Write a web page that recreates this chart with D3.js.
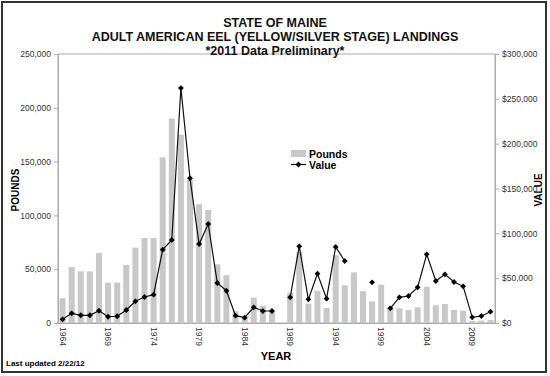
<!DOCTYPE html>
<html>
<head>
<meta charset="utf-8">
<script src="https://cdn.jsdelivr.net/npm/d3@7"></script>
<style>
  body { margin: 0; background: #fff; }
  svg { font-family: "Liberation Sans", Arial, sans-serif; }
</style>
</head>
<body>
<svg id="chart" width="550" height="376"></svg>
<script>
const years = d3.range(1964, 2012);
const pounds = [
  23000, 52000, 48000, 48000, 65000, 37500, 37500, 54000, 70000, 79000,
  79000, 154000, 190000, 175000, 133000, 110500, 105000, 54500, 44500, 11000,
  5000, 23500, 16000, 11500, null, 28000, 66000, 18000, 30000, 14000,
  63000, 35000, 47000, 29500, 20000, 35500, 14500, 13700, 12100, 14600,
  33700, 16500, 17700, 12100, 11400, 1800, 2200, 2900
];
const values = [
  4100, 10800, 8600, 8600, 13700, 7000, 7500, 14500, 24200, 29000,
  31600, 81800, 92600, 262000, 161400, 88100, 110400, 44600, 36000, 8200,
  5900, 17500, 13400, 13400, null, 28600, 85500, 26400, 55000, 27100,
  84800, 69100, null, null, 45400, null, 16400, 28600, 30100, 39800,
  76600, 46800, 54300, 45700, 40900, 6300, 7800, 12600
];
const poundTicks = [0, 50000, 100000, 150000, 200000, 250000];
const valueTicks = [0, 50000, 100000, 150000, 200000, 250000, 300000];
const yearLabels = [1964, 1969, 1974, 1979, 1984, 1989, 1994, 1999, 2004, 2009];

const rows = years.map((y, i) => ({ year: y, pounds: pounds[i], value: values[i] }));

const margin = { top: 54, right: 55, bottom: 53, left: 58 };
const width = 550 - margin.left - margin.right;
const height = 376 - margin.top - margin.bottom;

const svg = d3.select("#chart");

svg.append("rect")
  .attr("x", 2).attr("y", 2)
  .attr("width", 544).attr("height", 370)
  .attr("fill", "none")
  .attr("stroke", "#333")
  .attr("stroke-width", 2);

const g = svg.append("g")
  .attr("transform", `translate(${margin.left},${margin.top})`);

const x = d3.scaleBand()
  .domain(years)
  .range([0, width])
  .paddingInner(0.34)
  .paddingOuter(0.17);

const yL = d3.scaleLinear().domain([0, 250000]).range([height, 0]);
const yR = d3.scaleLinear().domain([0, 300000]).range([height, 0]);

// plot frame
g.append("rect")
  .attr("width", width).attr("height", height)
  .attr("fill", "none")
  .attr("stroke", "#aaa")
  .attr("stroke-width", 1);

g.selectAll(".bar")
  .data(rows.filter(d => d.pounds != null))
  .enter().append("rect")
  .attr("class", "bar")
  .attr("x", d => x(d.year))
  .attr("width", x.bandwidth())
  .attr("y", d => yL(d.pounds))
  .attr("height", d => height - yL(d.pounds))
  .attr("fill", "#c8c8c8");

const line = d3.line()
  .defined(d => d.value != null)
  .x(d => x(d.year) + x.bandwidth() / 2)
  .y(d => yR(d.value));

g.append("path")
  .datum(rows)
  .attr("fill", "none")
  .attr("stroke", "#111")
  .attr("stroke-width", 1.2)
  .attr("d", line);

// small diamond markers (square turned 45deg)
const marker = d3.symbol().type(d3.symbolSquare).size(17);
g.selectAll(".pt")
  .data(rows.filter(d => d.value != null))
  .enter().append("path")
  .attr("class", "pt")
  .attr("transform", d => `translate(${x(d.year) + x.bandwidth() / 2},${yR(d.value)}) rotate(45)`)
  .attr("d", marker)
  .attr("fill", "#000");

// axes
const leftAxis = g.append("g")
  .call(d3.axisLeft(yL).tickValues(poundTicks).tickSize(4).tickFormat(d3.format(",")));
const rightAxis = g.append("g")
  .attr("transform", `translate(${width},0)`)
  .call(d3.axisRight(yR).tickValues(valueTicks).tickSize(4).tickFormat(d => "$" + d3.format(",")(d)));
const bottomAxis = g.append("g")
  .attr("transform", `translate(0,${height})`)
  .call(d3.axisBottom(x).tickValues(yearLabels).tickSize(0).tickPadding(5));

[leftAxis, rightAxis, bottomAxis].forEach(a => {
  a.select(".domain").attr("stroke", "#aaa");
  a.selectAll(".tick line").attr("stroke", "#aaa");
  a.selectAll("text").attr("fill", "#333").style("font-size", "8.5px");
});

bottomAxis.selectAll("text")
  .attr("transform", "rotate(90)")
  .attr("text-anchor", "start")
  .attr("x", 4)
  .attr("y", 0)
  .attr("dy", "0.35em");

// titles
const titles = ["STATE OF MAINE", "ADULT AMERICAN EEL (YELLOW/SILVER STAGE) LANDINGS", "*2011 Data Preliminary*"];
svg.selectAll(".title")
  .data(titles)
  .enter().append("text")
  .attr("x", 275)
  .attr("y", (d, i) => 26.5 + i * 14)
  .attr("text-anchor", "middle")
  .style("font-size", "12.5px")
  .style("font-weight", "bold")
  .attr("fill", "#111")
  .text(d => d);

svg.append("text")
  .attr("transform", "translate(19,190) rotate(-90)")
  .attr("text-anchor", "middle")
  .style("font-size", "10px")
  .style("font-weight", "bold")
  .text("POUNDS");

svg.append("text")
  .attr("transform", "translate(542,190) rotate(-90)")
  .attr("text-anchor", "middle")
  .style("font-size", "10px")
  .style("font-weight", "bold")
  .text("VALUE");

svg.append("text")
  .attr("x", 276).attr("y", 360)
  .attr("text-anchor", "middle")
  .style("font-size", "11px")
  .style("font-weight", "bold")
  .text("YEAR");

svg.append("text")
  .attr("x", 6).attr("y", 366)
  .style("font-size", "8px")
  .style("font-weight", "bold")
  .text("Last updated 2/22/12");

// legend
const legend = svg.append("g").attr("transform", "translate(291,150)");
legend.append("rect")
  .attr("width", 15).attr("height", 7)
  .attr("fill", "#c8c8c8");
legend.append("text")
  .attr("x", 18).attr("y", 8)
  .style("font-size", "10.5px").style("font-weight", "bold")
  .text("Pounds");
legend.append("line")
  .attr("x1", 0).attr("x2", 15)
  .attr("y1", 14.5).attr("y2", 14.5)
  .attr("stroke", "#111").attr("stroke-width", 1.2);
legend.append("path")
  .attr("transform", "translate(7.5,14.5) rotate(45)")
  .attr("d", marker);
legend.append("text")
  .attr("x", 18).attr("y", 19)
  .style("font-size", "10.5px").style("font-weight", "bold")
  .text("Value");
</script>
</body>
</html>
